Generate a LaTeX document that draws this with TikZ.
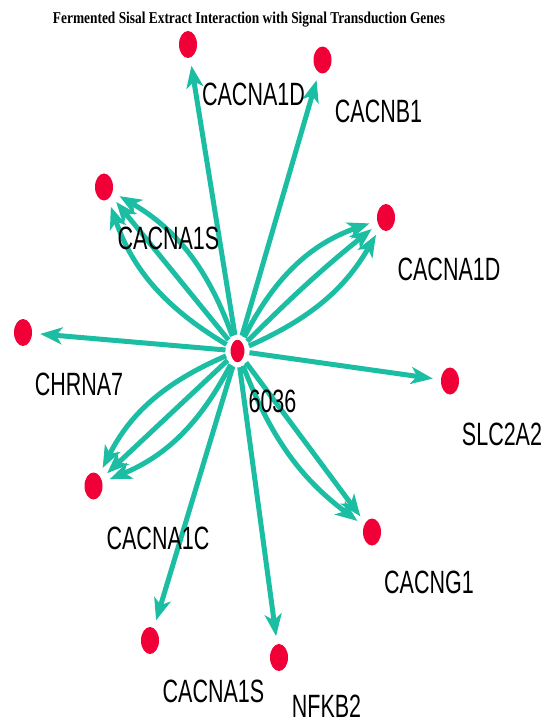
\documentclass[tikz,border=0pt]{standalone}
\usepackage{graphicx}
\usepackage{fontspec}
\setmainfont{Liberation Sans}
\newfontfamily\titlefont{Liberation Serif}
\usetikzlibrary{arrows.meta,shapes.geometric}
\definecolor{edgeteal}{RGB}{28,190,163}
\definecolor{nodered}{RGB}{240,0,55}
\newcommand\glabel[1]{\scalebox{1}[1.5]{#1}}
\tikzset{
 gene/.style={ellipse, fill=nodered, minimum width=18pt, minimum height=27pt, inner sep=0pt},
 hub/.style={gene, draw=white, line width=5pt, minimum width=19pt, minimum height=28pt},
 lbl/.style={inner sep=0pt, font=\fontsize{21.5}{21.5}\selectfont},
 link/.style={draw=edgeteal, line width=5pt, -{Stealth[length=22pt,width=17pt,inset=6pt]}, shorten >=8pt},
}
\begin{document}
\begin{tikzpicture}[x=1pt,y=-1pt]
\useasboundingbox (0,0) rectangle (546,723);
\node[anchor=base] (title) at (249,23) {\resizebox{392pt}{11.5pt}{\titlefont\bfseries Fermented Sisal Extract Interaction with Signal Transduction Genes}};
% nodes
\node[hub] (c) at (237.5,351) {};
\node[gene] (n1) at (188,44.5) {};
\node[gene] (n2) at (322.5,60) {};
\node[gene] (n3) at (104,187) {};
\node[gene] (n4) at (386,217.5) {};
\node[gene] (n5) at (23,332.5) {};
\node[gene] (n6) at (450,381) {};
\node[gene] (n7) at (93.5,486) {};
\node[gene] (n8) at (372,532) {};
\node[gene] (n9) at (150,640.5) {};
\node[gene] (n10) at (279,657.5) {};
% edges
\draw[link] (c) -- (n1);
\draw[link] (c) -- (n2);
\draw[link] (c) to[bend left=20] (n3);
\draw[link] (c) -- (n3);
\draw[link] (c) to[bend right=20] (n3);
\draw[link] (c) to[bend left=22] (n4);
\draw[link] (c) to[bend left=3] (n4);
\draw[link] (c) to[bend right=18] (n4);
\draw[link] (c) -- (n5);
\draw[link] (c) -- (n6);
\draw[link] (c) to[bend left=20] (n7);
\draw[link] (c) -- (n7);
\draw[link] (c) to[bend right=20] (n7);
\draw[link] (c) -- (n8);
\draw[link] (c) to[bend right=16] (n8);
\draw[link] (c) -- (n9);
\draw[link] (c) -- (n10);
% labels
\node[lbl] (l0) at (272.5,401.5) {\glabel{6036}};
\node[lbl] (l1) at (253.5,94.5) {\glabel{CACNA1D}};
\node[lbl] (l2) at (378.5,111) {\glabel{CACNB1}};
\node[lbl] (l3) at (168.5,238) {\glabel{CACNA1S}};
\node[lbl] (l4) at (449,269) {\glabel{CACNA1D}};
\node[lbl] (l5) at (79,384.5) {\glabel{CHRNA7}};
\node[lbl] (l6) at (502,434.5) {\glabel{SLC2A2}};
\node[lbl] (l7) at (158,538) {\glabel{CACNA1C}};
\node[lbl] (l8) at (429,582.5) {\glabel{CACNG1}};
\node[lbl] (l9) at (213.5,691.5) {\glabel{CACNA1S}};
\node[lbl] (l10) at (326.5,706.5) {\glabel{NFKB2}};
\end{tikzpicture}
\end{document}
